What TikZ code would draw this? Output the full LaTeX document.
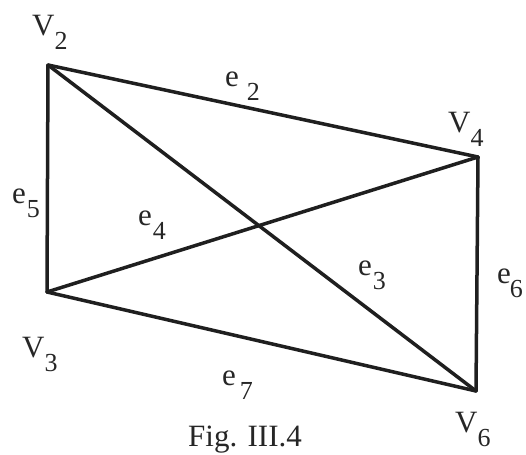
\documentclass[tikz,border=0pt]{standalone}
\usepackage{fontspec}
\setmainfont{Liberation Serif}
\newcommand{\mainsz}{\fontsize{31}{36}\selectfont}
\newcommand{\subsz}{\fontsize{26}{30}\selectfont}
\newcommand{\lbl}[3]{#1\hspace{#3}\raisebox{-14pt}{\subsz #2}}
\begin{document}
\begin{tikzpicture}[x=1pt,y=-1pt,
  edge/.style={draw=black!88, line width=3.5pt, line cap=round, line join=round},
  lab/.style={inner sep=0pt, anchor=base west, font=\mainsz, text=black!85}]
\useasboundingbox (0,0) rectangle (526,454);
\coordinate (v2) at (48,65);
\coordinate (v4) at (478,157);
\coordinate (v3) at (47,292);
\coordinate (v6) at (476,391);
\draw[edge] (v2) -- (v4);
\draw[edge] (v2) -- (v3);
\draw[edge] (v2) -- (v6);
\draw[edge] (v3) -- (v4);
\draw[edge] (v3) -- (v6);
\draw[edge] (v4) -- (v6);
\node[lab] (lv2) at (32,36) {\lbl{V}{2}{0pt}};
\node[lab] (lv4) at (448,133) {\lbl{V}{4}{0pt}};
\node[lab] (lv3) at (22,357) {\lbl{V}{3}{0pt}};
\node[lab] (lv6) at (455,432) {\lbl{V}{6}{0pt}};
\node[lab] (le2) at (225,87) {\lbl{e}{2}{8pt}};
\node[lab] (le5) at (12,203) {\lbl{e}{5}{1pt}};
\node[lab] (le4) at (138,225) {\lbl{e}{4}{1pt}};
\node[lab] (le3) at (358,275) {\lbl{e}{3}{1pt}};
\node[lab] (le6) at (497,283) {\lbl{e}{6}{-1pt}};
\node[lab] (le7) at (222,385) {\lbl{e}{7}{4pt}};
\node[lab] (fig) at (188,446) {Fig. III.4};
\end{tikzpicture}
\end{document}
